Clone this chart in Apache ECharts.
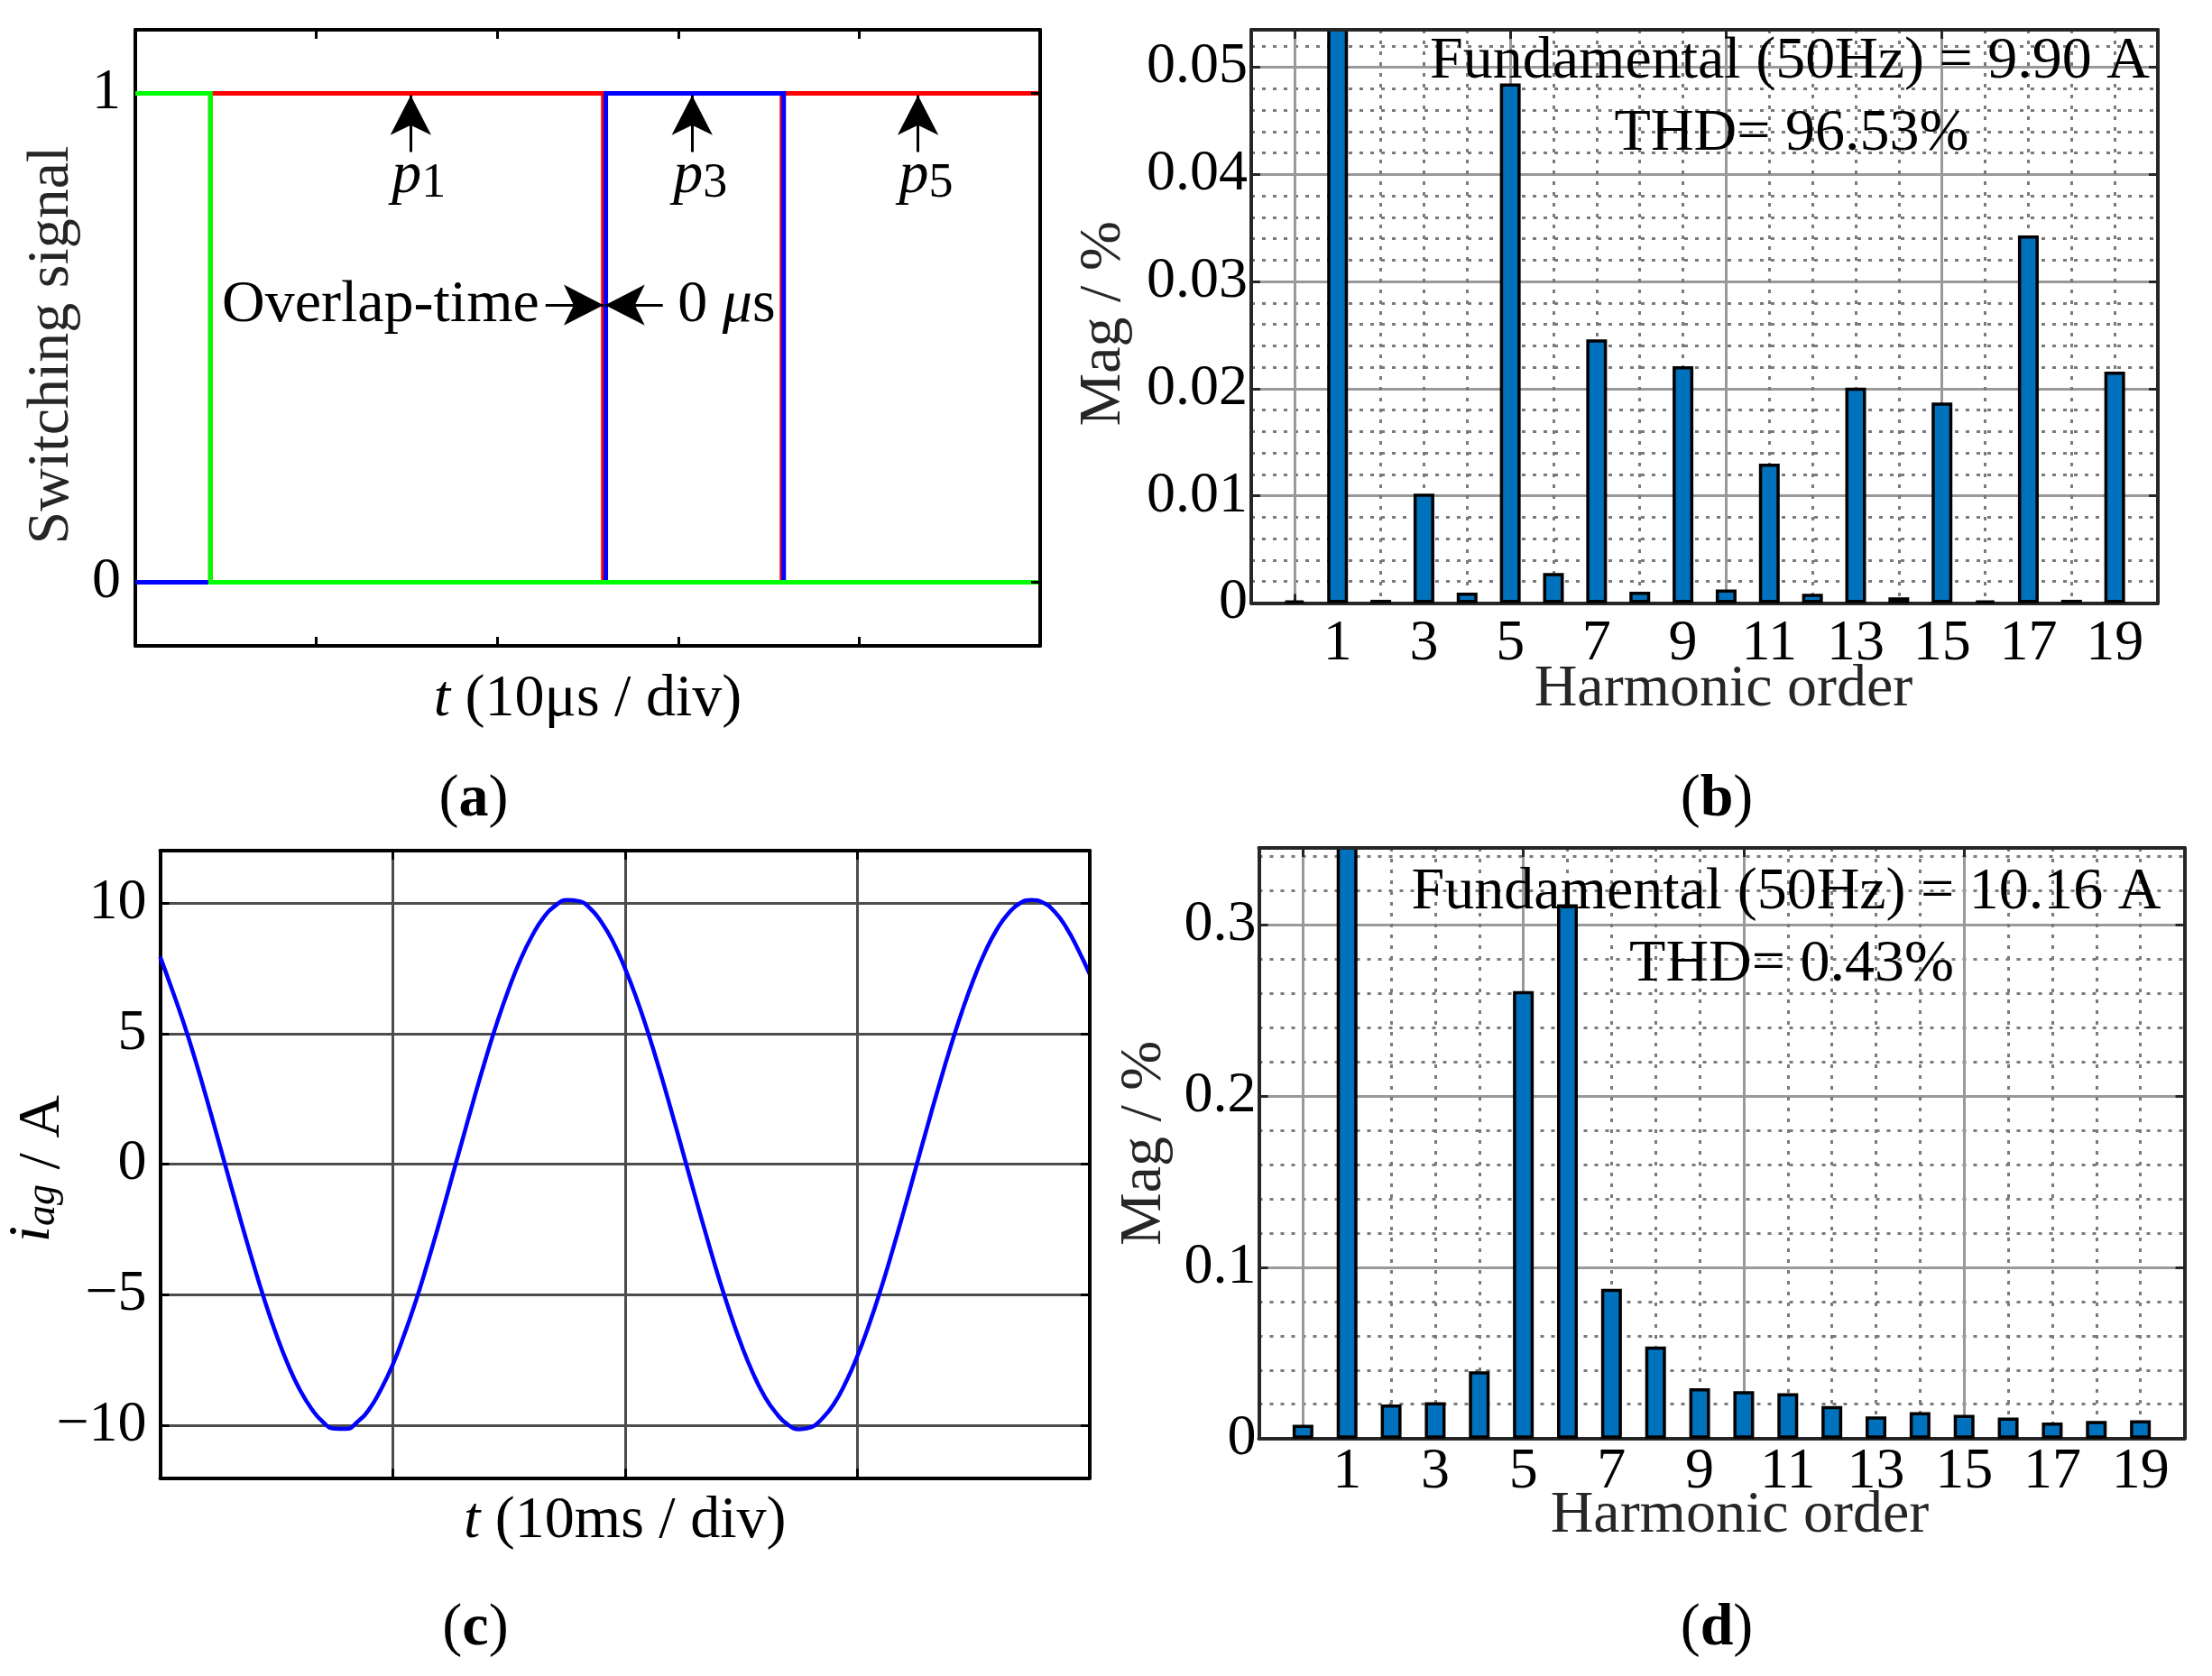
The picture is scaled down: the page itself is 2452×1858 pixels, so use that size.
<!DOCTYPE html>
<html>
<head>
<meta charset="utf-8">
<script src="https://cdn.jsdelivr.net/npm/echarts@6/dist/echarts.min.js"></script>
<style>
html,body{margin:0;padding:0;background:#ffffff;}
#chart{width:2452px;height:1858px;}
</style>
</head>
<body>
<div id="chart"></div>
<script>
// ===== Panel (a): switching signals (time in us, state 0/1) =====
const switchRedT   = [0, 4.15, 25.86, 35.73, 50];
const switchRedS   = [0, 1, 0, 1, 1];
const switchBlueT  = [0, 26.0, 35.83, 50];
const switchBlueS  = [0, 1, 0, 0];
const switchGreenT = [0, 4.15, 50];
const switchGreenS = [1, 0, 0];
const switchTickValues = [0, 1];
const pulseArrowT = [15.22, 30.77, 43.25];
const pulseSubscripts = ['1', '3', '5'];

// ===== Panels (b) and (d): harmonic spectra (Mag / %) =====
const harmonicOrders = [0, 1, 2, 3, 4, 5, 6, 7, 8, 9, 10, 11, 12, 13, 14, 15, 16, 17, 18, 19];
const harmonicTickLabels = [1, 3, 5, 7, 9, 11, 13, 15, 17, 19];
const harmonicMajorTicks = [0, 5, 10, 15, 20];
const magB = [0.0002, 100, 0.0003, 0.0102, 0.00097, 0.0485, 0.0028, 0.0246, 0.00106, 0.0221,
              0.00126, 0.0130, 0.00087, 0.0201, 0.00053, 0.0187, 0.0002, 0.0343, 0.0003, 0.0216];
const magD = [0.0080, 100, 0.0199, 0.0212, 0.0392, 0.2614, 0.312, 0.0875, 0.0537, 0.0293,
              0.0277, 0.0264, 0.0190, 0.0129, 0.0154, 0.0138, 0.0122, 0.0093, 0.0103, 0.0106];
const noteB = ['Fundamental (50Hz) = 9.90 A', 'THD= 96.53%'];
const noteD = ['Fundamental (50Hz) = 10.16 A', 'THD= 0.43%'];

// ===== Panel (c): grid current i_ag (t in ms, A), read every 0.5 ms =====
const tC = [0, 0.5, 1, 1.5, 2, 2.5, 3, 3.5, 4, 4.5, 5, 5.5, 6, 6.5, 7, 7.5, 8, 8.5, 9, 9.5,
            10, 10.5, 11, 11.5, 12, 12.5, 13, 13.5, 14, 14.5, 15, 15.5, 16, 16.5, 17, 17.5, 18, 18.5, 19, 19.5,
            20, 20.5, 21, 21.5, 22, 22.5, 23, 23.5, 24, 24.5, 25, 25.5, 26, 26.5, 27, 27.5, 28, 28.5, 29, 29.5,
            30, 30.5, 31, 31.5, 32, 32.5, 33, 33.5, 34, 34.5, 35, 35.5, 36, 36.5, 37, 37.5, 38, 38.5, 39, 39.5, 40];
const iC = [7.94, 6.72, 5.44, 4.03, 2.51, 0.93, -0.67, -2.25, -3.78, -5.22, -6.52, -7.66, -8.61, -9.34, -9.86, -10.12, -10.13, -9.85, -9.37, -8.62,
            -7.69, -6.53, -5.24, -3.80, -2.28, -0.69, 0.91, 2.49, 4.01, 5.43, 6.70, 7.82, 8.73, 9.44, 9.89, 10.11, 10.07, 9.79, 9.25, 8.49,
            7.50, 6.34, 5.02, 3.57, 2.03, 0.44, -1.16, -2.73, -4.24, -5.63, -6.89, -7.98, -8.87, -9.52, -9.96, -10.14, -10.07, -9.72, -9.16, -8.35,
            -7.34, -6.15, -4.81, -3.34, -1.79, -0.19, 1.41, 2.97, 4.46, 5.84, 7.07, 8.13, 8.98, 9.60, 9.99, 10.11, 10.01, 9.65, 9.04, 8.21, 7.27];
const iTickValues = [-10, -5, 0, 5, 10];

// ===== styling helpers =====
const FF = '"Liberation Serif","Times New Roman",serif';
const BLACK = '#000000';
const DARK = '#262626';
const pairs = (xs, ys) => xs.map((x, i) => [x, ys[i]]);
function frameLine(color) { return {show: true, onZero: false, lineStyle: {color: color, width: 4}}; }
function inTick(color, custom) {
  const t = {show: true, inside: true, length: 10, lineStyle: {color: color, width: 3}};
  if (custom) t.customValues = custom;
  return t;
}
const noLabel = {show: false};
const noSplit = {show: false};
function labelStyle(margin, extra) {
  return Object.assign({show: true, margin: margin, fontFamily: FF, fontSize: 64, color: '#000'}, extra || {});
}
function nameStyle(color, padding, rich) {
  const s = {fontFamily: FF, fontSize: 66, color: color};
  if (padding) s.padding = padding;
  if (rich) s.rich = rich;
  return s;
}
const italicRich = {it: {fontFamily: FF, fontSize: 66, fontStyle: 'italic', color: '#000'}};
const majorGrid = {show: true, lineStyle: {color: '#999999', width: 3}};
const minorGrid = {show: true, lineStyle: {color: '#7a7a7a', width: 3, type: [4, 8]}};
const fmtB = v => {
  if (Math.abs(v) < 1e-12) return '0';
  const k = Math.round(v * 100);
  return Math.abs(v * 100 - k) < 1e-6 ? (k / 100).toFixed(2) : '';
};
const fmtD = v => {
  if (Math.abs(v) < 1e-12) return '0';
  const k = Math.round(v * 10);
  return Math.abs(v * 10 - k) < 1e-6 ? (k / 10).toFixed(1) : '';
};
const fmtOdd = v => harmonicTickLabels.indexOf(v) >= 0 ? String(v) : '';
const fmtMinus = v => v < 0 ? '\u2212' + (-v) : String(v);

const grids = [
  {left: 150, top: 33, width: 1003, height: 683},
  {left: 1387, top: 33, width: 1005, height: 635.5},
  {left: 177.5, top: 943, width: 1030.5, height: 695.3},
  {left: 1395.5, top: 940, width: 1026, height: 654.7}
].map(g => Object.assign({containLabel: false, outerBoundsMode: 'none', show: false}, g));

function spectrumXAxes(gi, labelMargin, nameGap, namePad) {
  return [
    {gridIndex: gi, type: 'value', position: 'bottom', min: -1, max: 20, interval: 1,
     axisLine: {show: false}, axisTick: {show: false},
     axisLabel: labelStyle(labelMargin, {formatter: fmtOdd}), splitLine: minorGrid},
    {gridIndex: gi, type: 'value', position: 'bottom', min: -1, max: 20,
     axisLine: frameLine(DARK), axisTick: inTick(DARK, harmonicMajorTicks), axisLabel: noLabel,
     splitLine: majorGrid, name: 'Harmonic order', nameLocation: 'middle', nameGap: nameGap,
     nameMoveOverlap: false, nameTextStyle: nameStyle(DARK, namePad)},
    {gridIndex: gi, type: 'value', position: 'top', min: -1, max: 20,
     axisLine: frameLine(DARK), axisTick: inTick(DARK, harmonicMajorTicks), axisLabel: noLabel,
     splitLine: noSplit, z: 5}
  ];
}
function spectrumYAxes(gi, max, interval, fmt, labelMargin, nameGap, namePad) {
  return [
    {gridIndex: gi, type: 'value', position: 'left', min: 0, max: max, interval: interval,
     axisLine: frameLine(DARK), axisTick: inTick(DARK), axisLabel: labelStyle(labelMargin, {formatter: fmt}),
     splitLine: majorGrid, minorTick: {show: false, splitNumber: 5}, minorSplitLine: minorGrid,
     name: 'Mag / %', nameLocation: 'middle', nameGap: nameGap, nameMoveOverlap: false,
     nameTextStyle: nameStyle(DARK, namePad)},
    {gridIndex: gi, type: 'value', position: 'right', min: 0, max: max, interval: interval,
     axisLine: frameLine(DARK), axisTick: inTick(DARK), axisLabel: noLabel, splitLine: noSplit, z: 5}
  ];
}

const xAxes = [
  // (a)
  {gridIndex: 0, type: 'value', position: 'bottom', min: 0, max: 50, interval: 10,
   axisLine: frameLine(BLACK), axisTick: inTick(BLACK), axisLabel: noLabel, splitLine: noSplit,
   name: '{it|t} (10\u03bcs / div)', nameLocation: 'middle', nameGap: 27, nameMoveOverlap: false,
   nameTextStyle: nameStyle('#000', null, italicRich)},
  {gridIndex: 0, type: 'value', position: 'top', min: 0, max: 50, interval: 10,
   axisLine: frameLine(BLACK), axisTick: inTick(BLACK), axisLabel: noLabel, splitLine: noSplit, z: 5},
  // (b)
  ...spectrumXAxes(1, 14, 63, [0, 0, 0, 42]),
  // (c)
  {gridIndex: 2, type: 'value', position: 'bottom', min: 0, max: 40, interval: 10,
   axisLine: frameLine(BLACK), axisTick: inTick(BLACK), axisLabel: noLabel,
   splitLine: {show: true, lineStyle: {color: '#4d4d4d', width: 3}},
   name: '{it|t} (10ms / div)', nameLocation: 'middle', nameGap: 15, nameMoveOverlap: false,
   nameTextStyle: nameStyle('#000', null, italicRich)},
  {gridIndex: 2, type: 'value', position: 'top', min: 0, max: 40, interval: 10,
   axisLine: frameLine(BLACK), axisTick: inTick(BLACK), axisLabel: noLabel, splitLine: noSplit, z: 5},
  // (d)
  ...spectrumXAxes(3, 5, 53, [0, 0, 0, 40])
];

const yAxes = [
  // (a)
  {gridIndex: 0, type: 'value', position: 'left', min: -0.13, max: 1.13,
   axisLine: frameLine(BLACK), axisTick: inTick(BLACK, switchTickValues),
   axisLabel: labelStyle(16, {customValues: switchTickValues}), splitLine: noSplit,
   name: 'Switching signal', nameLocation: 'middle', nameGap: 59, nameMoveOverlap: false,
   nameTextStyle: nameStyle(DARK, [0, 16, 0, 0])},
  {gridIndex: 0, type: 'value', position: 'right', min: -0.13, max: 1.13,
   axisLine: frameLine(BLACK), axisTick: inTick(BLACK, switchTickValues), axisLabel: noLabel, splitLine: noSplit, z: 5},
  // (b)
  ...spectrumYAxes(1, 0.0535, 0.01, fmtB, 4, 130, [0, 16, 0, 0]),
  // (c)
  {gridIndex: 2, type: 'value', position: 'left', min: -12, max: 12,
   axisLine: frameLine(BLACK), axisTick: inTick(BLACK, iTickValues),
   axisLabel: labelStyle(15, {customValues: iTickValues, formatter: fmtMinus}),
   splitLine: {show: true, lineStyle: {color: '#4d4d4d', width: 3}},
   name: '{it|i}{sub|ag} / A', nameLocation: 'middle', nameGap: 86, nameMoveOverlap: false,
   nameTextStyle: nameStyle('#000', [0, 10, 0, 0], {
     it: {fontFamily: FF, fontSize: 66, fontStyle: 'italic', color: '#000', lineHeight: 66, verticalAlign: 'top'},
     sub: {fontFamily: FF, fontSize: 46, fontStyle: 'italic', color: '#000', lineHeight: 88}
   })},
  {gridIndex: 2, type: 'value', position: 'right', min: -12, max: 12,
   axisLine: frameLine(BLACK), axisTick: inTick(BLACK, iTickValues), axisLabel: noLabel, splitLine: noSplit, z: 5},
  // (d)
  ...spectrumYAxes(3, 0.345, 0.1, fmtD, 3, 94, null)
];

const markerRich = {
  p: {fontFamily: FF, fontSize: 66, fontStyle: 'italic', color: '#000', lineHeight: 66, verticalAlign: 'top'},
  s: {fontFamily: FF, fontSize: 54, color: '#000', lineHeight: 84},
  mu: {fontFamily: FF, fontSize: 66, fontStyle: 'italic', color: '#000'}
};

function arrowPair(x0, y0, x1, y1) {
  return [
    {coord: [x0, y0], symbol: 'none'},
    {coord: [x1, y1], symbol: 'arrow', symbolSize: [34, 44]}
  ];
}

const series = [
  {type: 'line', xAxisIndex: 0, yAxisIndex: 0, step: 'end', symbol: 'none', silent: true,
   data: pairs(switchRedT, switchRedS), lineStyle: {color: '#ff0000', width: 5, join: 'miter'}},
  {type: 'line', xAxisIndex: 0, yAxisIndex: 0, step: 'end', symbol: 'none', silent: true,
   data: pairs(switchBlueT, switchBlueS), lineStyle: {color: '#0000ff', width: 5, join: 'miter'}},
  {type: 'line', xAxisIndex: 0, yAxisIndex: 0, step: 'end', symbol: 'none', silent: true,
   data: pairs(switchGreenT, switchGreenS), lineStyle: {color: '#00ff00', width: 5, join: 'miter'},
   markLine: {
     silent: true, symbol: ['none', 'arrow'], symbolSize: 30,
     label: {show: false}, emphasis: {disabled: true},
     lineStyle: {color: '#000', width: 3, type: 'solid'},
     itemStyle: {color: '#000'},
     data: [
       ...pulseArrowT.map(t => arrowPair(t, 0.88, t, 0.996)),
       arrowPair(22.67, 0.567, 25.87, 0.567),
       arrowPair(29.15, 0.567, 25.96, 0.567)
     ]
   },
   markPoint: {
     silent: true, symbol: 'circle', symbolSize: 1, itemStyle: {color: 'rgba(0,0,0,0)'},
     label: {show: true, color: '#000', fontFamily: FF, fontSize: 66, rich: markerRich},
     emphasis: {disabled: true},
     data: [
       ...pulseArrowT.map((t, k) => ({coord: [t + 0.45, 0.814],
         label: {position: 'inside', formatter: '{p|p}{s|' + pulseSubscripts[k] + '}'}})),
       {coord: [22.35, 0.567], label: {position: 'left', distance: 0, formatter: 'Overlap-time'}},
       {coord: [29.95, 0.567], label: {position: 'right', distance: 0, formatter: '0 {mu|\u03bc}s'}}
     ]
   }},
  {type: 'bar', xAxisIndex: 3, yAxisIndex: 2, silent: true, barWidth: 23, clip: true,
   data: pairs(harmonicOrders, magB),
   itemStyle: {color: '#0072bd', borderColor: '#000', borderWidth: 3.5}},
  {type: 'line', xAxisIndex: 5, yAxisIndex: 4, silent: true, symbol: 'none', smooth: true,
   data: pairs(tC, iC), lineStyle: {color: '#0000ff', width: 4.5}},
  {type: 'bar', xAxisIndex: 8, yAxisIndex: 6, silent: true, barWidth: 23, clip: true,
   data: pairs(harmonicOrders, magD),
   itemStyle: {color: '#0072bd', borderColor: '#000', borderWidth: 3.5}}
];

function textEl(x, y, text, rich) {
  const style = {text: text, x: 0, y: 0, fontFamily: FF, fontSize: 66, fill: '#000',
                 align: 'center', verticalAlign: 'middle', textAlign: 'center', textVerticalAlign: 'middle'};
  if (rich) style.rich = rich;
  return {type: 'text', x: x, y: y, z: 100, silent: true, style: style};
}
const boldRich = {b: {fontFamily: FF, fontSize: 66, fontWeight: 'bold', fill: '#000', color: '#000'}};
const graphic = [
  textEl(1984, 69, noteB[0]),
  textEl(1986, 149, noteB[1]),
  textEl(1980, 990, noteD[0]),
  textEl(1986, 1070, noteD[1]),
  textEl(525, 887, '({b|a})', boldRich),
  textEl(1903, 887, '({b|b})', boldRich),
  textEl(527, 1806, '({b|c})', boldRich),
  textEl(1903, 1806, '({b|d})', boldRich)
];

const chart = echarts.init(document.getElementById('chart'), null, {renderer: 'canvas', width: 2452, height: 1858});
chart.setOption({
  animation: false,
  backgroundColor: '#ffffff',
  textStyle: {fontFamily: FF},
  grid: grids,
  xAxis: xAxes,
  yAxis: yAxes,
  series: series,
  graphic: graphic
});
</script>
</body>
</html>
